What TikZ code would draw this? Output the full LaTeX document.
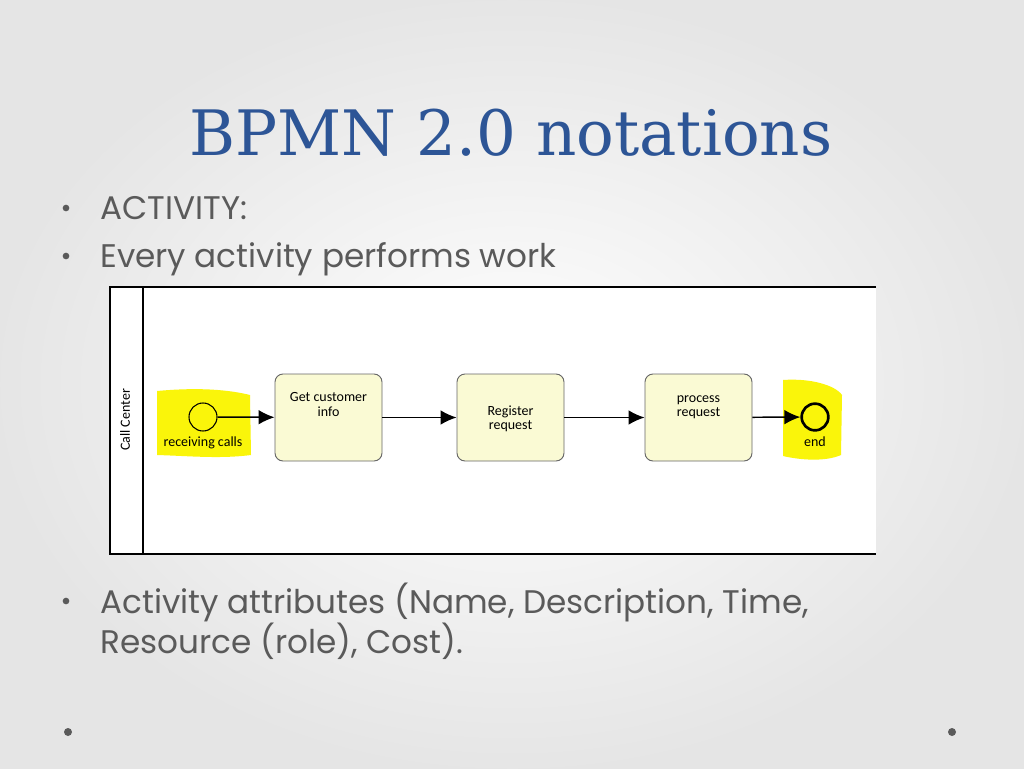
\documentclass[tikz,border=0pt]{standalone}
\usepackage{fontspec}
\setmainfont{Poppins}
\newfontfamily\titlefont{DejaVu Serif}
\newfontfamily\diafont{Carlito}
\definecolor{titleblue}{RGB}{45,85,150}
\definecolor{bodygray}{RGB}{90,90,90}
\definecolor{taskfill}{RGB}{250,250,212}
\definecolor{hl}{RGB}{250,245,10}
\begin{document}
\begin{tikzpicture}[x=0.75pt,y=-0.75pt,
  task/.style={draw=black!60,fill=taskfill,rounded corners=6pt,minimum width=80.25pt,minimum height=65.25pt,font=\diafont\fontsize{10.5}{11}\selectfont,align=center,line width=0.7pt},
  flow/.style={-{Latex[length=12pt,width=11pt]},line width=1.1pt},
  bul/.style={anchor=base west,font=\fontsize{24.5}{28}\selectfont,text=bodygray,inner sep=0pt},
  dot/.style={circle,fill=bodygray,inner sep=0pt,minimum size=6pt}]
\usetikzlibrary{arrows.meta}
\useasboundingbox (0,0) rectangle (1024,768);
\shade[inner color=white,outer color=black!10] (0,0) rectangle (1024,768);
\node[font=\titlefont\fontsize{47}{56}\selectfont,text=titleblue,anchor=base] (title) at (511,155) {BPMN 2.0 notations};
\node[dot,minimum size=5pt] (b1) at (66,208) {};
\node[bul] (t1) at (100,219) {ACTIVITY:};
\node[dot,minimum size=5pt] (b2) at (66,256) {};
\node[bul] (t2) at (100,267) {Every activity performs work};
\node[dot,minimum size=5pt] (b3) at (66,601) {};
\node[bul] (t3) at (100,613) {Activity attributes (Name, Description, Time,};
\node[bul] (t4) at (100,653) {Resource (role), Cost).};
% diagram
\fill[white] (110,287) rectangle (876,554);
\draw[line width=0.8pt] (876,287) -- (110,287) -- (110,554) -- (876,554);
\draw[line width=1.2pt] (143,287) -- (143,554);
\node[rotate=90,font=\diafont\fontsize{10.5}{12}\selectfont] (lane) at (125,420) {Call Center};
\fill[hl] (157,391) .. controls (200,387) and (230,390) .. (250,395) -- (251,455) .. controls (220,459) and (190,456) .. (157,455) -- cycle;
\fill[hl] (783,380) .. controls (810,378) and (835,385) .. (842,395) -- (841,455) .. controls (825,462) and (800,460) .. (783,456) -- cycle;
\node[circle,draw,line width=0.8pt,minimum size=21pt,inner sep=0pt] (start) at (203,417) {};
\node[font=\diafont\fontsize{10.5}{12}\selectfont] (sl) at (203,443) {receiving calls};
\node[task] (a1) at (328.5,417.5) {Get customer\\info\\[9pt]};
\node[task] (a2) at (510.5,417.5) {\\[-2pt]Register\\request};
\node[task] (a3) at (698.5,417.5) {process\\request\\[6pt]};
\node[circle,draw,line width=2pt,minimum size=20pt,inner sep=0pt] (end) at (815,417) {};
\node[font=\diafont\fontsize{10.5}{12}\selectfont] (el) at (815,442) {end};
\draw[flow] (start) -- (a1);
\draw[flow] (a1) -- (a2);
\draw[flow] (a2) -- (a3);
\draw[flow] (a3) -- (end);
\node[dot] (d1) at (68,732) {};
\node[dot] (d2) at (952,732) {};
\end{tikzpicture}
\end{document}
